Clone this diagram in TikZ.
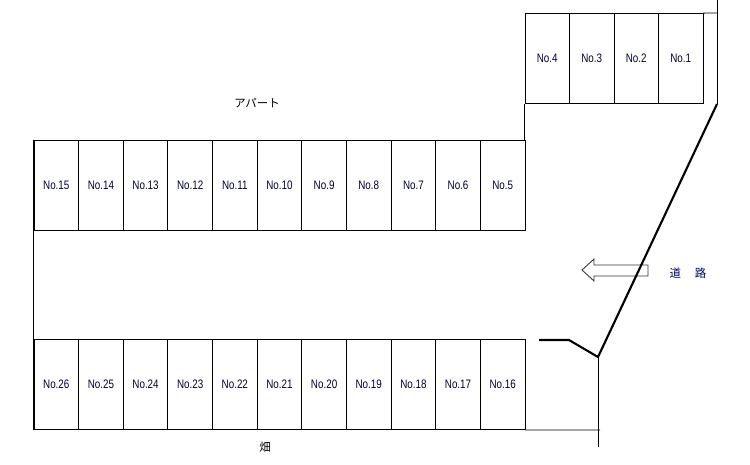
\documentclass[tikz,border=0pt]{standalone}
\usepackage{fontspec}
\setmainfont{Liberation Sans}
\newfontfamily\jpfont{Noto Sans CJK JP}
\begin{document}
\begin{tikzpicture}[x=0.02cm,y=-0.02cm,
    stall/.style={draw,line width=0.5pt,minimum width=44.6*0.02cm,minimum height=90*0.02cm,
        inner sep=0pt,font=\fontsize{7}{8}\selectfont,text=black!80!blue},
    wall/.style={line width=0.5pt},
    road/.style={line width=1.2pt}]
    \useasboundingbox (0,0) rectangle (750,464);

    % top row
    \foreach \i in {1,...,4} {
        \node[stall,minimum width=44.5*0.02cm] (t\i) at (703-44.5*\i+22.25,58.5) {\scalebox{0.8}[1]{No.\i}};
    }
    % middle row
    \foreach \i in {5,...,15} {
        \node[stall] (m\i) at (525-44.64*\i+44.64*5-22.32,185) {\scalebox{0.8}[1]{No.\i}};
    }
    % bottom row
    \foreach \i in {16,...,26} {
        \node[stall] (b\i) at (525-44.64*\i+44.64*16-22.32,384.5) {\scalebox{0.8}[1]{No.\i}};
    }

    \coordinate (topR) at (718,13);
    \coordinate (cornerT) at (717,104);
    \coordinate (cornerB) at (598,357);
    \coordinate (kink) at (569,340);
    \coordinate (gate) at (539,340);

    \draw[wall] (t1.north east) -- (topR);
    \draw[wall] (717,0) -- (cornerT);
    \draw[wall] (t4.south west) -- (t4.south west |- m5.north east);
    \draw[wall] (m15.north west) -- (b26.south west);
    \draw[wall] (b16.south east) -- (600,430);
    \draw[wall] (cornerB) -- (598,447);

    % arrow
    \draw[line width=0.5pt,fill=white,draw=black!80]
        (582,270) -- (594,259) -- (594,265) -- (648,265) -- (648,276)
        -- (594,276) -- (594,281) -- cycle;
    \draw[road] (cornerT) -- (cornerB) -- (kink) -- (gate);

    \node[font=\jpfont\fontsize{6.5}{7}\selectfont] (apt) at (257,103) {アパート};
    \node[font=\jpfont\fontsize{6.5}{7}\selectfont,text=black!60!blue] (road) at (688,273) {道\hspace{1.2em}路};
    \node[font=\jpfont\fontsize{6.5}{7}\selectfont] (field) at (265,447) {畑};
\end{tikzpicture}
\end{document}
